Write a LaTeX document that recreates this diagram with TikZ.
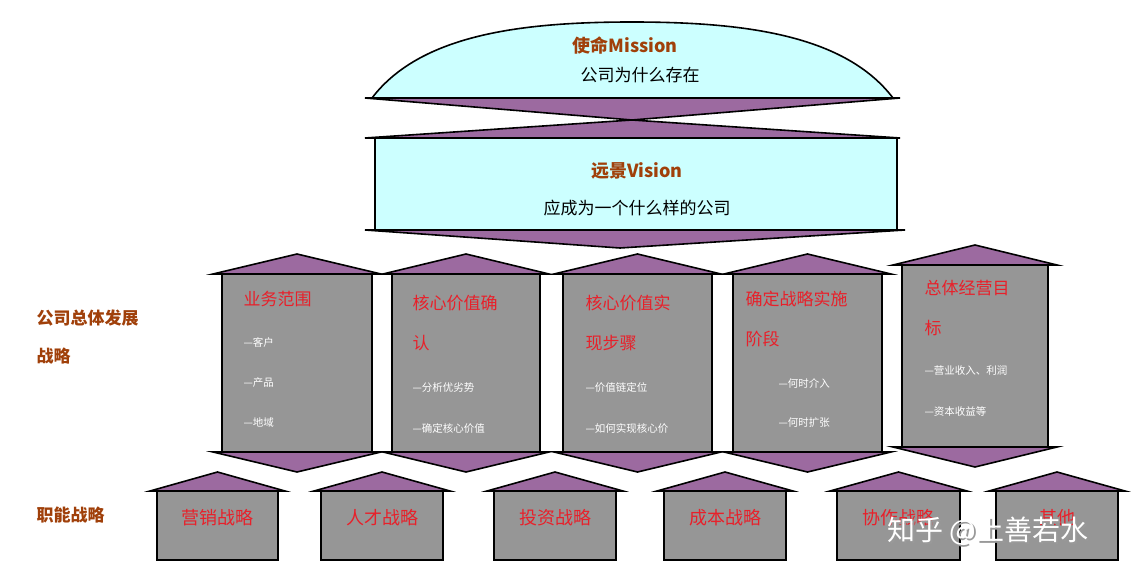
\documentclass[tikz,border=0pt]{standalone}
\usepackage{fontspec}
\setmainfont{Noto Sans CJK SC}
\newfontfamily\cjk{Noto Sans CJK SC}
\begin{document}
\begin{tikzpicture}[x=1pt,y=-1pt,
  pur/.style={fill=purp,draw=black,line width=1.6pt,line join=miter},
  box/.style={fill=boxgray,draw=black,line width=2.5pt},
  ttl/.style={text=redt,font=\fontsize{17}{40}\selectfont,anchor=north west,align=left},
  sub/.style={text=white,font=\fontsize{10.5}{12}\selectfont,anchor=west},
  btl/.style={text=redt,font=\fontsize{18}{20}\selectfont},
  lbl/.style={text=brownt,font=\bfseries\fontsize{17}{38}\selectfont,anchor=west,align=left}]
\definecolor{purp}{HTML}{9C6AA0}
\definecolor{cyanf}{HTML}{CCFFFF}
\definecolor{boxgray}{HTML}{969696}
\definecolor{redt}{HTML}{E8202A}
\definecolor{brownt}{HTML}{A0400A}
\useasboundingbox (0,0) rectangle (1142,580);
% mission
\draw[pur] (365,98) -- (900,98) -- (632,120) -- cycle;
\draw[pur] (632,120) -- (365,138) -- (900,138) -- cycle;
\draw[fill=cyanf,line width=1.6pt] (372,98) .. controls (420,35) and (520,22) .. (632,22) .. controls (745,22) and (845,35) .. (893,98) -- cycle;
\node (m1) at (625,46) {\textcolor{brownt}{\bfseries\fontsize{18}{20}\selectfont 使命Mission}};
\node (m2) at (640,75) {\fontsize{17}{20}\selectfont 公司为什么存在};
% vision
\draw[pur] (365,230) -- (905,230) -- (620,248) -- cycle;
\draw[fill=cyanf,line width=2.5pt] (375,138) rectangle (897,230);
\node (v1) at (637,171) {\textcolor{brownt}{\bfseries\fontsize{18}{20}\selectfont 远景Vision}};
\node (v2) at (637,208) {\fontsize{17}{20}\selectfont 应成为一个什么样的公司};
% middle boxes
\foreach \l/\r/\t/\b/\a in {222/372/274/452/20, 392/540/274/452/20, 563/712/274/452/20, 733/882/274/452/20, 902/1048/265/447/20}{
  \pgfmathsetmacro\c{(\l+\r)/2}
  \draw[pur] (\l-9,\t) -- (\c,\t-\a) -- (\r+9,\t) -- cycle;
  \draw[pur] (\l-9,\b) -- (\c,\b+\a) -- (\r+9,\b) -- cycle;
  \draw[box] (\l,\t) rectangle (\r,\b);
}
\node[ttl] (t1) at (240,288) {业务范围};
\node[sub] (s11) at (240,342) {—客户};
\node[sub] (s12) at (240,383) {—产品};
\node[sub] (s13) at (240,423) {—地域};
\node[ttl] (t2) at (409,292) {核心价值确\\认};
\node[sub] (s21) at (409,388) {—分析优劣势};
\node[sub] (s22) at (409,429) {—确定核心价值};
\node[ttl] (t3) at (582,292) {核心价值实\\现步骤};
\node[sub] (s31) at (582,388) {—价值链定位};
\node[sub] (s32) at (582,429) {—如何实现核心价};
\node[ttl] (t4) at (742,288) {确定战略实施\\阶段};
\node[sub] (s41) at (775,383) {—何时介入};
\node[sub] (s42) at (775,423) {—何时扩张};
\node[ttl] (t5) at (921,277) {总体经营目\\标};
\node[sub] (s51) at (921,371) {—营业收入、利润};
\node[sub] (s52) at (921,411) {—资本收益等};
% bottom boxes
\foreach \l/\r/\n [count=\i] in {157/278/营销战略, 321/443/人才战略, 494/616/投资战略, 664/786/成本战略, 837/960/协作战略, 996/1118/其他}{
  \pgfmathsetmacro\c{(\l+\r)/2}
  \draw[pur] (\l-7,491) -- (\c,472) -- (\r+7,491) -- cycle;
  \draw[box] (\l,491) rectangle (\r,560);
  \node[btl] (b\i) at (\c,518) {\n};
}
% left labels
\node[lbl] (L1) at (33,337) {公司总体发展\\战略};
\node[lbl] (L2) at (33,515) {职能战略};
% watermark
\node[text=black!40,font=\fontsize{28}{30}\selectfont] (wm0) at (990,533) {知乎 @上善若水};
\node[text=white,font=\fontsize{28}{30}\selectfont] (wm) at (988,531) {知乎 @上善若水};
\end{tikzpicture}
\end{document}
